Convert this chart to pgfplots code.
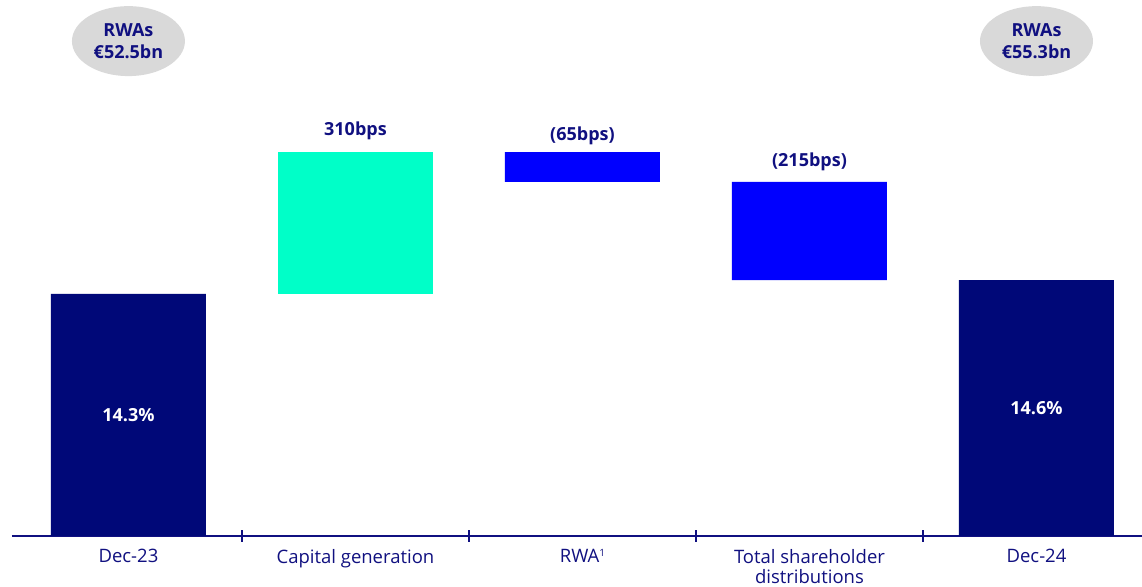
\documentclass[border=0pt]{standalone}
\usepackage{pgfplots}
\pgfplotsset{compat=1.18}
\usetikzlibrary{shapes.geometric}
\usepackage{fontspec}
\setmainfont{Open Sans}
\definecolor{navy}{RGB}{0,8,120}
\definecolor{txt}{RGB}{16,16,128}
\definecolor{aqua}{RGB}{0,255,200}
\definecolor{brightblue}{RGB}{0,0,255}
\definecolor{bubble}{RGB}{217,217,217}
\begin{document}
\begin{tikzpicture}[x=1pt,y=1pt]
\useasboundingbox (-12pt,-50pt) rectangle (1130pt,536pt);
\begin{axis}[
  at={(0pt,0pt)}, anchor=south west,
  scale only axis, width=1130pt, height=536pt,
  xmin=-0.513, xmax=4.465, ymin=9, ymax=20.73,
  ybar stacked, bar width=155pt,
  axis x line*=bottom, axis y line=none,
  x axis line style={draw=txt, line width=1.2pt, -},
  xtick={0,1,2,3,4},
  xticklabels={Dec-23, Capital generation, RWA{\fontsize{10}{10}\selectfont\raisebox{6pt}{1}}, {Total shareholder\\distributions}, Dec-24},
  minor xtick={0.5,1.5,2.5,3.5},
  major tick length=0pt, minor tick length=12pt, tick align=center,
  minor tick style={draw=txt, line width=1.2pt},
  xticklabel style={font=\fontsize{18.5}{20.5}\selectfont, text=txt, align=center, anchor=north, yshift=-9.5pt},
  clip mode=individual,
]
\addplot[fill=none, draw=none, forget plot] coordinates {(0,0) (1,14.3) (2,16.75) (3,14.6) (4,0)};
\addplot[fill=navy, draw=none] coordinates {(0,14.3) (1,0) (2,0) (3,0) (4,14.6)};
\addplot[fill=aqua, draw=none] coordinates {(0,0) (1,3.1) (2,0) (3,0) (4,0)};
\addplot[fill=brightblue, draw=none] coordinates {(0,0) (1,0) (2,0.65) (3,2.15) (4,0)};

\coordinate (L0) at (axis cs:0,11.65);
\coordinate (L4) at (axis cs:4,11.8);
\node[text=txt, font=\bfseries\fontsize{18}{21}\selectfont, anchor=south, inner sep=0pt] at (axis cs:1,17.4) [yshift=12pt] {310bps};
\node[text=txt, font=\bfseries\fontsize{18}{21}\selectfont, anchor=south, inner sep=0pt] at (axis cs:2,17.38) [yshift=8pt] {(65bps)};
\node[text=txt, font=\bfseries\fontsize{18}{21}\selectfont, anchor=south, inner sep=0pt] at (axis cs:3,16.75) [yshift=11pt] {(215bps)};

\node[ellipse, fill=bubble, minimum width=113pt, minimum height=70pt, inner sep=0pt, text=txt, align=center, font=\bfseries\fontsize{18}{22}\selectfont] at (axis cs:0,19.83) {RWAs\\€52.5bn};
\node[ellipse, fill=bubble, minimum width=113pt, minimum height=70pt, inner sep=0pt, text=txt, align=center, font=\bfseries\fontsize{18}{22}\selectfont] at (axis cs:4,19.83) {RWAs\\€55.3bn};
\end{axis}
\node[text=white, font=\bfseries\fontsize{18}{21}\selectfont] at (L0) {14.3\%};
\node[text=white, font=\bfseries\fontsize{18}{21}\selectfont] at (L4) {14.6\%};
\end{tikzpicture}
\end{document}
